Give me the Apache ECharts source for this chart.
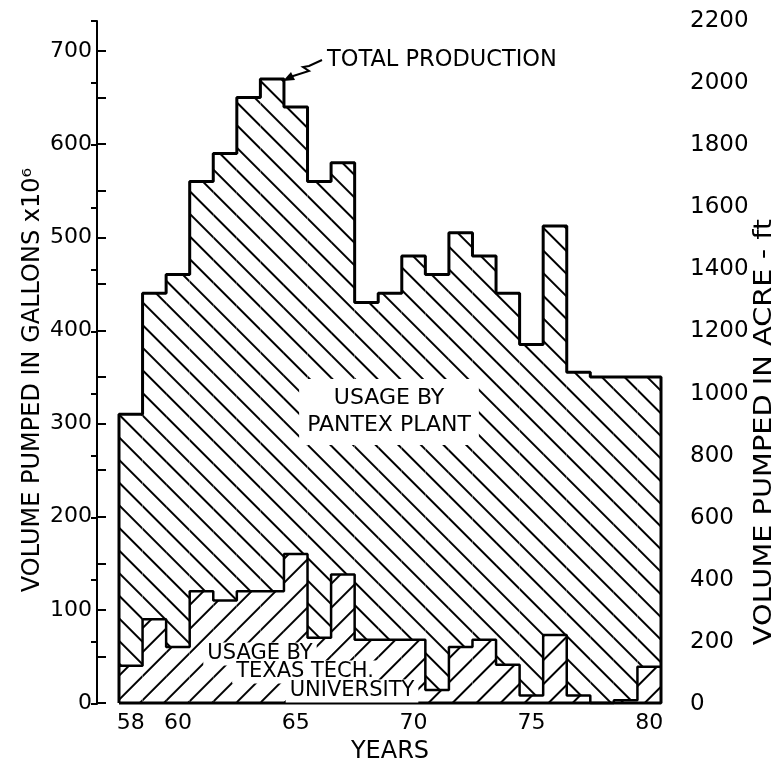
<!DOCTYPE html>
<html><head><meta charset="utf-8">
<script src="https://cdn.jsdelivr.net/npm/echarts@6/dist/echarts.min.js"></script>
<style>html,body{margin:0;padding:0;background:#fff}#c{width:784px;height:766px}</style>
</head><body><div id="c"></div>
<script>
// ---- data ----
const years = ['58','59','60','61','62','63','64','65','66','67','68','69','70','71','72','73','74','75','76','77','78','79','80'];
const totalProduction = [310,440,460,560,590,650,670,640,560,580,430,440,480,460,505,480,440,385,512,355,350,350,350];
const texasTech = [40,90,60,120,110,120,120,160,70,138,68,68,68,14,60,68,41,8,73,8,0,3,39];
const xTickLabels = ['58','60','65','70','75','80'];
const leftAxisMax = 700, leftTickStep = 50, leftLabelStep = 100;
const rightAxisMax = 2200, rightAxisStep = 200;

// ---- derived ----
const pantex = totalProduction.map((t, i) => t - texasTech[i]);
const yearNum = years.map(Number);
const x0 = yearNum[0] - 0.5, x1 = yearNum[yearNum.length - 1] + 0.5;
const totalOutline = [[x0, 0]];
yearNum.forEach((y, i) => { totalOutline.push([y - 0.5, totalProduction[i]], [y + 0.5, totalProduction[i]]); });
totalOutline.push([x1, 0], [x0, 0]);
const ttOutline = [];
yearNum.forEach((y, i) => { ttOutline.push([y - 0.5, texasTech[i]], [y + 0.5, texasTech[i]]); });

const FONT = 'DejaVu Sans';
const txt = { color: '#000', fontFamily: FONT, fontSize: 22 };

const chart = echarts.init(document.getElementById('c'));
chart.setOption({
  animation: false,
  backgroundColor: '#fff',
  grid: [
    { left: 119, right: 123, top: 51, bottom: 63, outerBoundsMode: 'none', containLabel: false },
    { left: 97, right: 102, top: 21, bottom: 62, outerBoundsMode: 'none', containLabel: false }
  ],
  xAxis: [
    { type: 'category', gridIndex: 0, data: years,
      axisLine: { show: false }, axisTick: { show: false },
      axisLabel: Object.assign({ interval: (i, v) => xTickLabels.includes(v), margin: 9 }, txt),
      name: 'YEARS', nameLocation: 'middle', nameGap: 37, nameTextStyle: Object.assign({}, txt, { fontSize: 24 }) },
    { type: 'value', gridIndex: 0, min: x0, max: x1, show: false },
    { type: 'value', gridIndex: 1, show: false }
  ],
  yAxis: [
    { type: 'value', gridIndex: 0, min: 0, max: leftAxisMax, interval: leftTickStep, position: 'left', offset: 22,
      axisLine: { show: true, lineStyle: { color: '#000', width: 2 } },
      axisTick: { show: true, inside: true, length: 9, lineStyle: { color: '#000', width: 2 } },
      axisLabel: Object.assign({ margin: 5, formatter: v => (v % leftLabelStep === 0 ? String(v) : '') }, txt),
      splitLine: { show: false } },
    { type: 'value', gridIndex: 1, min: 0, max: rightAxisMax, interval: rightAxisStep, position: 'right',
      axisLine: { show: true, lineStyle: { color: '#000', width: 2 } },
      axisTick: { show: true, inside: true, length: 6, lineStyle: { color: '#000', width: 2 } },
      axisLabel: Object.assign({ margin: 8, formatter: v => String(v) }, txt, { fontSize: 23 }),
      splitLine: { show: false } }
  ],
  series: [
    { name: 'Usage by Texas Tech. University', type: 'bar', stack: 'use', xAxisIndex: 0, yAxisIndex: 0,
      data: texasTech, barWidth: '100%', barCategoryGap: 0,
      itemStyle: { color: '#fff', decal: { symbol: 'rect', dashArrayX: [1, 0], dashArrayY: [2, 15], rotation: -Math.PI / 4, color: '#000' } } },
    { name: 'Usage by Pantex Plant', type: 'bar', stack: 'use', xAxisIndex: 0, yAxisIndex: 0,
      data: pantex, barWidth: '100%', barCategoryGap: 0,
      itemStyle: { color: '#fff', decal: { symbol: 'rect', dashArrayX: [1, 0], dashArrayY: [2, 14], rotation: Math.PI / 4, color: '#000' } } },
    { name: 'Total production', type: 'line', xAxisIndex: 1, yAxisIndex: 0, data: totalOutline,
      symbol: 'none', clip: false, z: 5, lineStyle: { color: '#000', width: 3 } },
    { name: 'Texas Tech outline', type: 'line', xAxisIndex: 1, yAxisIndex: 0, data: ttOutline,
      symbol: 'none', clip: false, z: 5, lineStyle: { color: '#000', width: 2.5 } }
  ],
  graphic: [
    { type: 'text', x: 33, y: 380, rotation: Math.PI / 2, z: 10,
      style: { text: 'VOLUME PUMPED IN GALLONS x10⁶', font: '24px ' + FONT, fill: '#000', align: 'center', verticalAlign: 'middle' } },
    { type: 'text', x: 765, y: 432, rotation: Math.PI / 2, scaleX: 1.2, scaleY: 1, z: 10,
      style: { text: 'VOLUME PUMPED IN ACRE - ft', font: '24px ' + FONT, fill: '#000', align: 'center', verticalAlign: 'middle' } },
    { type: 'text', x: 327, y: 60, z: 10,
      style: { text: 'TOTAL PRODUCTION', font: '22.5px ' + FONT, fill: '#000', align: 'left', verticalAlign: 'middle' } },
    { type: 'polyline', z: 10, shape: { points: [[322, 60], [309, 66], [303, 67], [309, 71], [290, 77]] },
      style: { stroke: '#000', lineWidth: 2, fill: null } },
    { type: 'polygon', z: 10, shape: { points: [[283, 81], [291, 72], [295, 80]] }, style: { fill: '#000' } },
    { type: 'text', x: 389, y: 412, z: 10,
      style: { text: 'USAGE BY\nPANTEX PLANT', font: '22px ' + FONT, lineHeight: 27, fill: '#000', align: 'center', verticalAlign: 'middle',
               backgroundColor: '#fff', padding: [6, 8] } },
    { type: 'text', x: 260, y: 654, z: 10,
      style: { text: 'USAGE BY', font: '21px ' + FONT, fill: '#000', align: 'center', verticalAlign: 'middle', backgroundColor: '#fff', padding: [1, 4] } },
    { type: 'text', x: 305, y: 672, z: 10,
      style: { text: 'TEXAS TECH.', font: '21px ' + FONT, fill: '#000', align: 'center', verticalAlign: 'middle', backgroundColor: '#fff', padding: [1, 4] } },
    { type: 'text', x: 352, y: 691, z: 10,
      style: { text: 'UNIVERSITY', font: '21px ' + FONT, fill: '#000', align: 'center', verticalAlign: 'middle', backgroundColor: '#fff', padding: [1, 4] } }
  ]
});
</script></body></html>
